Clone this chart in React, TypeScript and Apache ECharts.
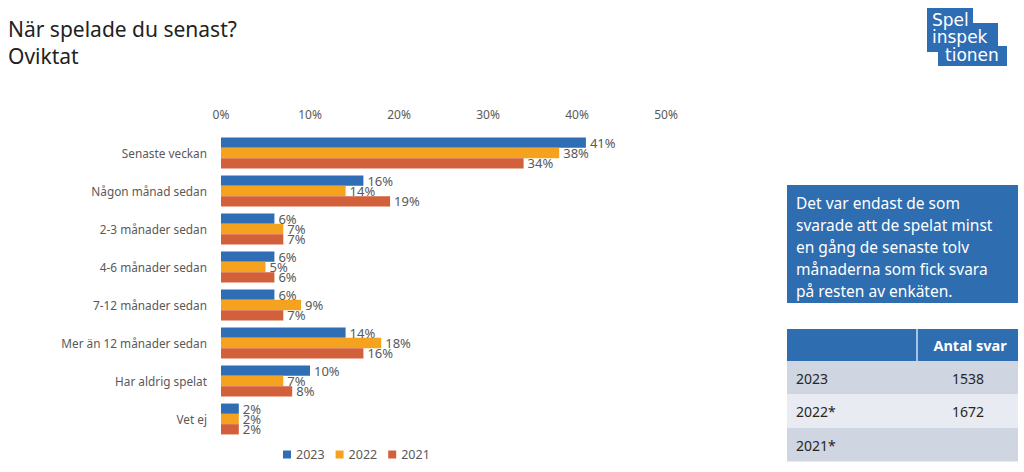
import React, { useEffect, useRef } from "react";
import * as echarts from "echarts";

const categories = [
  "Senaste veckan",
  "Någon månad sedan",
  "2-3 månader sedan",
  "4-6 månader sedan",
  "7-12 månader sedan",
  "Mer än 12 månader sedan",
  "Har aldrig spelat",
  "Vet ej",
];
const seriesNames = ["2023", "2022", "2021"];
const values2023 = [41, 16, 6, 6, 6, 14, 10, 2];
const values2022 = [38, 14, 7, 5, 9, 18, 7, 2];
const values2021 = [34, 19, 7, 6, 7, 16, 8, 2];
const colors = ["#2F6DB5", "#F5A21F", "#D2603A"];

const titleLines = ["När spelade du senast?", "Oviktat"];
const noteLines = [
  "Det var endast de som",
  "svarade att de spelat minst",
  "en gång de senaste tolv",
  "månaderna som fick svara",
  "på resten av enkäten.",
];
const tableHeader = "Antal svar";
const tableYears = ["2023", "2022*", "2021*"];
const tableCounts = ["1538", "1672", ""];
const logoLines = ["Spel", "inspek", "tionen"];

const FONT = "'Noto Sans', 'Open Sans', sans-serif";

export default function App() {
  const ref = useRef<HTMLDivElement>(null);
  useEffect(() => {
    if (!ref.current) return;
    const chart = echarts.init(ref.current, undefined, { renderer: "svg" });
    const dataSets = [values2023, values2022, values2021];
    const blue = "#2E6DB0";
    const logoBlue = "#2E6DB4";
    const rowFills = ["#CFD5E1", "#E8EBF1", "#CFD5E1"];
    const graphic: any[] = [];
    titleLines.forEach((t, i) => {
      graphic.push({
        type: "text",
        left: 8,
        top: 18 + i * 27,
        style: { text: t, fontSize: 21, fontFamily: FONT, fill: "#222222" },
      });
    });
    // logo
    graphic.push({ type: "rect", shape: { x: 927, y: 8, width: 46, height: 44 }, style: { fill: logoBlue } });
    graphic.push({ type: "rect", shape: { x: 927, y: 23, width: 71, height: 29 }, style: { fill: logoBlue } });
    graphic.push({ type: "rect", shape: { x: 938, y: 46, width: 69, height: 20 }, style: { fill: logoBlue } });
    const logoPos = [
      [932, 20],
      [932, 37],
      [945, 55],
    ];
    logoLines.forEach((t, i) => {
      graphic.push({
        type: "text",
        x: logoPos[i][0],
        y: logoPos[i][1],
        style: {
          text: t,
          fontSize: 17,
          fontFamily: "'DejaVu Sans', sans-serif",
          fill: "#ffffff",
          verticalAlign: "middle",
          align: "left",
        },
      });
    });
    // note box
    graphic.push({ type: "rect", shape: { x: 787, y: 185, width: 231, height: 118 }, style: { fill: blue } });
    noteLines.forEach((t, i) => {
      graphic.push({
        type: "text",
        x: 796,
        y: 203 + i * 22,
        style: { text: t, fontSize: 15.5, fontFamily: FONT, fill: "#ffffff", verticalAlign: "middle", align: "left" },
      });
    });
    // table
    graphic.push({ type: "rect", shape: { x: 787, y: 329, width: 231, height: 32 }, style: { fill: blue } });
    graphic.push({ type: "line", shape: { x1: 917, y1: 329, x2: 917, y2: 361 }, style: { stroke: "#cfe0f3", lineWidth: 1.5 } });
    graphic.push({
      type: "text",
      x: 970,
      y: 345,
      style: {
        text: tableHeader,
        fontSize: 14.5,
        fontWeight: "bold",
        fontFamily: FONT,
        fill: "#ffffff",
        verticalAlign: "middle",
        align: "center",
      },
    });
    tableYears.forEach((yr, i) => {
      const y0 = 361 + i * 33.5;
      graphic.push({ type: "rect", shape: { x: 787, y: y0, width: 231, height: 33.5 }, style: { fill: rowFills[i] } });
      graphic.push({
        type: "text",
        x: 796,
        y: y0 + 17,
        style: { text: yr, fontSize: 14, fontFamily: FONT, fill: "#262626", verticalAlign: "middle", align: "left" },
      });
      if (tableCounts[i]) {
        graphic.push({
          type: "text",
          x: 968,
          y: y0 + 17,
          style: { text: tableCounts[i], fontSize: 14, fontFamily: FONT, fill: "#262626", verticalAlign: "middle", align: "center" },
        });
      }
    });

    chart.setOption({
      animation: false,
      textStyle: { fontFamily: FONT },
      grid: { left: 221, top: 134, width: 445, height: 304, containLabel: false },
      xAxis: {
        type: "value",
        position: "top",
        min: 0,
        max: 50,
        interval: 10,
        axisLine: { show: false },
        axisTick: { show: false },
        splitLine: { show: false },
        axisLabel: { formatter: "{value}%", color: "#595959", fontSize: 12, margin: 14 },
      },
      yAxis: {
        type: "category",
        inverse: true,
        data: categories,
        axisLine: { show: false },
        axisTick: { show: false },
        axisLabel: { color: "#595959", fontSize: 11.8, margin: 14 },
      },
      legend: {
        left: 278,
        top: 443,
        icon: "rect",
        itemWidth: 8,
        itemHeight: 8,
        itemGap: 11,
        textStyle: { color: "#595959", fontSize: 12.5 },
        data: seriesNames,
      },
      series: seriesNames.map((n, i) => ({
        name: n,
        type: "bar",
        data: dataSets[i],
        barWidth: 10.3,
        barGap: "0%",
        itemStyle: { color: colors[i] },
        label: {
          show: true,
          position: "right",
          distance: 4,
          formatter: "{c}%",
          color: "#595959",
          fontSize: 13,
        },
      })),
      graphic,
    });
    return () => chart.dispose();
  }, []);
  return <div ref={ref} style={{ position: "fixed", left: 0, top: 0, width: 1024, height: 472, background: "#fff" }} />;
}
